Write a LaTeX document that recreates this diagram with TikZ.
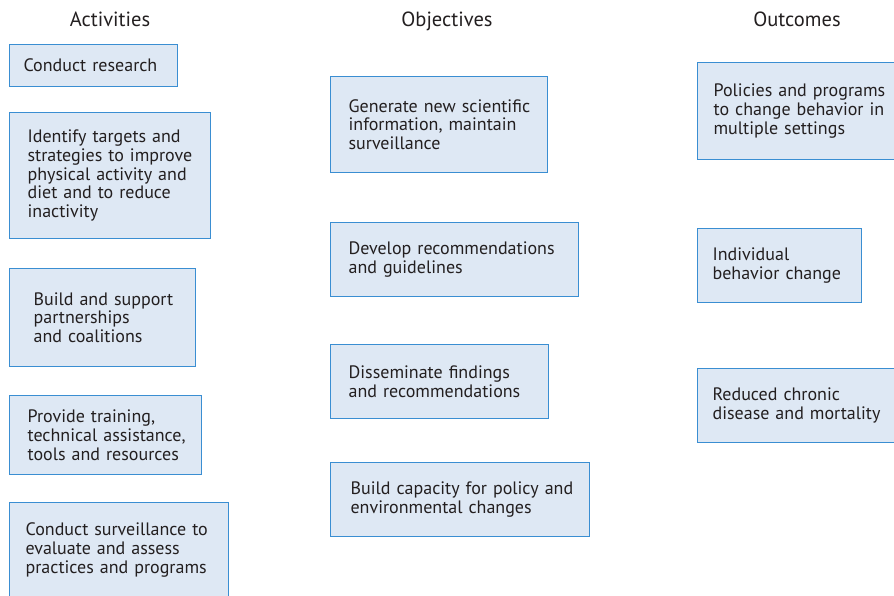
\documentclass[tikz,border=0pt]{standalone}
\usepackage{fontspec}
\setmainfont{PT Sans}
\usetikzlibrary{positioning}
\definecolor{boxline}{HTML}{3A8ED2}
\definecolor{boxfill}{HTML}{DEE8F4}
\definecolor{ink}{HTML}{231F20}
\tikzset{
  pbox/.style={draw=boxline, fill=boxfill, line width=1.2pt, anchor=north west,
    align=left, inner sep=0pt, text=ink,
    font=\fontsize{18}{18.7}\selectfont},
  lpad/.style={execute at begin node={\leftskip=#1\relax}},
  colhead/.style={text=ink, anchor=base, font=\fontsize{20.5}{22}\selectfont}
}
\begin{document}
\begin{tikzpicture}[x=1pt,y=-1pt]
  \useasboundingbox (0,0) rectangle (894,595);
  \clip (0,0) rectangle (894,595);
  % column heads
  \node[colhead] (hact) at (110,26) {Activities};
  \node[colhead] (hobj) at (447,26) {Objectives};
  \node[colhead] (hout) at (797,26) {Outcomes};
  % activities
  \node[pbox, lpad=14pt, text width=168pt, minimum height=42pt] (act1) at (9,44)
    {Conduct research};
  \node[pbox, lpad=18pt, text width=201pt, minimum height=126pt] (act2) at (9,112)
    {Identify targets and\\strategies to improve\\physical activity and\\diet and to reduce\\inactivity};
  \node[pbox, lpad=24pt, text width=186pt, minimum height=98pt] (act3) at (9,268)
    {Build and support\\partnerships\\and coalitions};
  \node[pbox, lpad=18pt, text width=192pt, minimum height=79pt] (act4) at (9,395)
    {Provide training,\\technical assistance,\\tools and resources};
  \node[pbox, lpad=16pt, text width=219pt, minimum height=95pt] (act5) at (9,502)
    {Conduct surveillance to\\evaluate and assess\\practices and programs};
  % objectives
  \node[pbox, lpad=18pt, text width=217pt, minimum height=96pt] (obj1) at (330,76)
    {Generate new scientific\\information, maintain\\surveillance};
  \node[pbox, lpad=18pt, text width=248pt, minimum height=74pt] (obj2) at (330,222)
    {Develop recommendations\\and guidelines};
  \node[pbox, lpad=18pt, text width=218pt, minimum height=74pt] (obj3) at (330,344)
    {Disseminate findings\\and recommendations};
  \node[pbox, lpad=20pt, text width=259pt, minimum height=74pt] (obj4) at (330,462)
    {Build capacity for policy and\\environmental changes};
  % outcomes
  \node[pbox, lpad=16pt, text width=215pt, minimum height=97pt] (out1) at (697,62)
    {Policies and programs\\to change behavior in\\multiple settings};
  \node[pbox, lpad=15pt, text width=164pt, minimum height=74pt] (out2) at (697,228)
    {Individual\\behavior change};
  \node[pbox, lpad=15pt, text width=215pt, minimum height=74pt] (out3) at (697,368)
    {Reduced chronic\\disease and mortality};
\end{tikzpicture}
\end{document}
